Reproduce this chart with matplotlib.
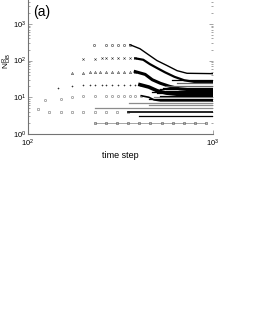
import numpy as np
import matplotlib.pyplot as plt

plt.rcParams['font.family'] = ['Liberation Sans', 'DejaVu Sans']
plt.rcParams['mathtext.fontset'] = 'custom'
plt.rcParams['mathtext.rm'] = 'Liberation Sans'
plt.rcParams['mathtext.it'] = 'Liberation Sans:italic'

# sparse marker part of each run (time step, N)
s1_t = [227, 264, 285, 307, 330, 356]
s1_n = [265, 265, 268, 265, 268, 270]
s2_t = [198, 230, 250, 264, 285, 307, 330, 356, 380]
s2_n = [107, 112, 115, 115, 115, 115, 115, 115, 115]
s3_t = [173, 198, 215, 230, 245, 264, 285, 307, 330, 356, 380]
s3_n = [45, 46, 48, 50, 50, 50, 50, 50, 50, 50, 50]
s4_t = [145, 173, 198, 215, 230, 250, 264, 285, 307, 330, 356, 380, 403]
s4_n = [18, 20, 21, 22, 22, 22, 22, 22, 22, 22, 22, 22, 22]
s5_t = [124, 151, 173, 198, 230, 264, 285, 307, 330, 356, 380, 410]
s5_n = [8.3, 9, 10, 10.5, 11, 11, 11, 11, 11, 11, 11, 11]
s6_t = [113, 130, 151, 173, 198, 230, 264, 303, 347]
s6_n = [4.7, 4, 4, 4, 4, 4, 4, 4, 4]
s7_t = [230, 264, 303, 347, 398, 457, 530, 608, 697, 800, 918]
s7_n = [2, 2, 2, 2, 2, 2, 2, 2, 2, 2, 2]

# dense (line) part of each run
l1_t = [356, 403, 456, 498, 565, 640, 724, 1000]
l1_n = [270, 210, 136, 100, 73, 53, 45, 44]
l2_t = [380, 420, 456, 500, 550, 620, 700, 800, 1000]
l2_n = [115, 105, 80, 62, 48, 36, 29, 26, 26]
l3_t = [380, 430, 470, 520, 580, 660, 750, 1000]
l3_n = [50, 42, 30, 24, 20, 17, 16, 16]
l4_t = [403, 450, 500, 560, 650, 1000]
l4_n = [22, 19, 15, 13, 12, 12]
l5_t = [410, 450, 480, 520, 1000]
l5_n = [11, 10, 8.5, 8, 8]
l6_t = [347, 1000]
l6_n = [4, 4]

# plateau levels reached by other runs
plat_n = [3, 5, 6, 7, 9, 10, 11, 13, 14, 15, 17, 18, 20, 25, 30]
plat_t0 = [400, 230, 450, 350, 450, 480, 520, 500, 470, 560, 520, 540, 560, 640, 600]
plat_c = ['k', '0.55', '0.55', '0.55', 'k', '0.55', 'k', 'k', 'k', 'k', 'k', 'k',
          '0.4', '0.4', 'k']

fig = plt.figure(figsize=(2.55, 3.3), dpi=100)
ax = fig.add_axes([0.110, 0.594, 0.725, 0.445])

mk = dict(ms=1.6, mew=0.4, ls='none', mfc='none')
ax.plot(s1_t, s1_n, 'o', color='0.2', **mk)
ax.plot(s2_t, s2_n, 'x', color='0.2', **mk)
ax.plot(s3_t, s3_n, '^', color='0.2', **mk)
ax.plot(s4_t, s4_n, '+', color='0.2', **mk)
ax.plot(s5_t, s5_n, 'o', color='0.45', **mk)
ax.plot(s6_t, s6_n, 's', color='0.45', **mk)
ax.plot(s7_t, s7_n, 's', color='0.4', ms=1.8, mew=0.5, mfc='none', ls='-', lw=0.4)

for t, n, w in [(l1_t, l1_n, 1.0), (l2_t, l2_n, 1.6), (l3_t, l3_n, 2.2),
                (l4_t, l4_n, 2.6), (l5_t, l5_n, 1.2), (l6_t, l6_n, 1.2)]:
    ax.plot(t, n, color='k', lw=w)

for n, t0, c in zip(plat_n, plat_t0, plat_c):
    ax.plot([t0, 1000], [n, n], color=c, lw=0.9)

ax.set_xscale('log')
ax.set_yscale('log')
ax.set_xlim(100, 1000)
ax.set_ylim(1, 1e4)
ax.set_xticks([100, 1000])
ax.set_yticks([1, 10, 100, 1000])
ax.xaxis.set_minor_locator(plt.NullLocator())
ax.spines['top'].set_visible(False)
ax.spines['right'].set_visible(False)
for s in ['left', 'bottom']:
    ax.spines[s].set_color('0.45')
    ax.spines[s].set_linewidth(0.8)
ax.tick_params(which='both', direction='in', right=True, labelsize=5.5,
               color='0.5', width=0.5, pad=1)
ax.tick_params(axis='x', pad=3)
ax.tick_params(which='major', length=3)
ax.tick_params(which='minor', length=1.5)
ax.set_xlabel('time step', fontsize=6.5, labelpad=1)
ax.set_ylabel(r'$\mathrm{N}_{\mathrm{DB}}^{\mathrm{R}}$', fontsize=6)
ax.yaxis.set_label_coords(-0.076, 0.5)
fig.text(0.13, 0.964, '(a)', fontsize=10, va='center')

fig.savefig('out.png', dpi=100)
